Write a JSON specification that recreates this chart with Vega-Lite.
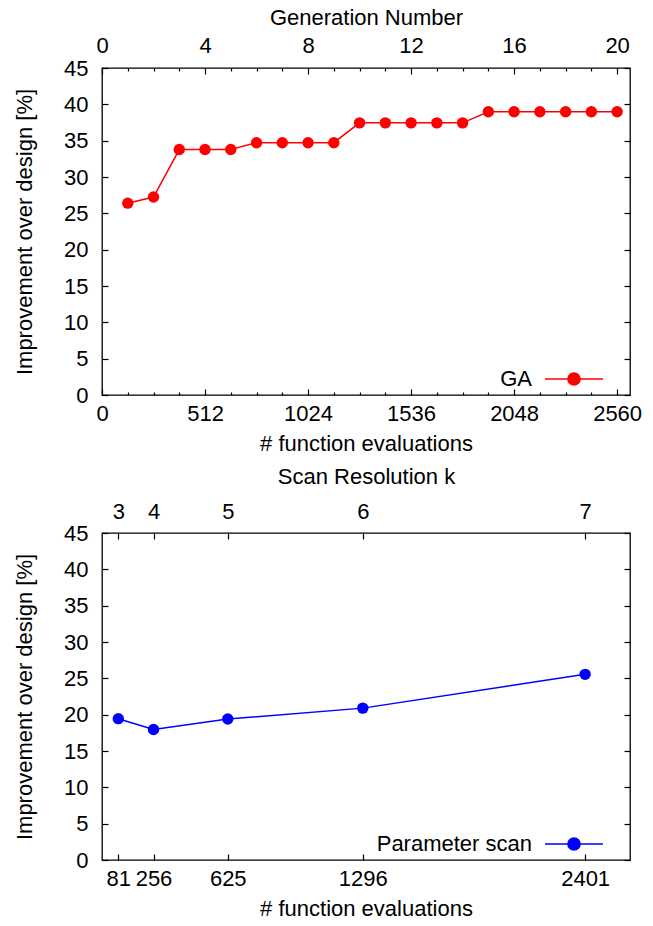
{
  "$schema": "https://vega.github.io/schema/vega-lite/v6.json",
  "padding": {"left": 12, "top": 5, "right": 10, "bottom": 5},
  "background": "white",
  "spacing": 9,
  "resolve": {"scale": {"color": "independent"}, "legend": {"color": "independent"}},
  "config": {
    "font": "Liberation Sans",
    "view": {"stroke": "black", "strokeWidth": 1.3},
    "axis": {
      "labelFont": "Liberation Sans",
      "titleFont": "Liberation Sans",
      "labelFontSize": 22,
      "titleFontSize": 22,
      "titleFontWeight": "normal",
      "labelColor": "black",
      "titleColor": "black",
      "tickColor": "black",
      "tickWidth": 1.2,
      "grid": false,
      "domain": false,
      "labelFlush": false,
      "labelOverlap": false,
      "format": "d"
    },
    "legend": {"labelFont": "Liberation Sans", "labelFontSize": 22, "labelColor": "black"}
  },
  "vconcat": [
    {
      "width": 528,
      "height": 327,
      "data": {"values": [
        {"gen": 1, "evals": 128, "imp": 26.4},
        {"gen": 2, "evals": 256, "imp": 27.25},
        {"gen": 3, "evals": 384, "imp": 33.78},
        {"gen": 4, "evals": 512, "imp": 33.78},
        {"gen": 5, "evals": 640, "imp": 33.78},
        {"gen": 6, "evals": 768, "imp": 34.72},
        {"gen": 7, "evals": 896, "imp": 34.72},
        {"gen": 8, "evals": 1024, "imp": 34.72},
        {"gen": 9, "evals": 1152, "imp": 34.72},
        {"gen": 10, "evals": 1280, "imp": 37.45},
        {"gen": 11, "evals": 1408, "imp": 37.45},
        {"gen": 12, "evals": 1536, "imp": 37.45},
        {"gen": 13, "evals": 1664, "imp": 37.45},
        {"gen": 14, "evals": 1792, "imp": 37.45},
        {"gen": 15, "evals": 1920, "imp": 38.97},
        {"gen": 16, "evals": 2048, "imp": 38.97},
        {"gen": 17, "evals": 2176, "imp": 38.97},
        {"gen": 18, "evals": 2304, "imp": 38.97},
        {"gen": 19, "evals": 2432, "imp": 38.97},
        {"gen": 20, "evals": 2560, "imp": 38.97}
      ]},
      "layer": [
        {
          "mark": {"type": "line", "strokeWidth": 1.5},
          "encoding": {
            "x": {"field": "evals", "type": "quantitative", "scale": {"domain": [0, 2624], "nice": false, "zero": false},
              "axis": {"orient": "bottom", "values": [0, 512, 1024, 1536, 2048, 2560], "ticks": false, "labelPadding": 8, "title": "# function evaluations", "titlePadding": 9}},
            "y": {"field": "imp", "type": "quantitative", "scale": {"domain": [0, 45], "nice": false},
              "axis": {"orient": "left", "values": [0, 5, 10, 15, 20, 25, 30, 35, 40, 45], "ticks": false, "labelPadding": 14, "title": "Improvement over design [%]", "titlePadding": 27}},
            "color": {"datum": "GA", "type": "nominal", "scale": {"domain": ["GA"], "range": ["#ff0000"]},
              "legend": {"title": null, "orient": "none", "legendX": 442, "legendY": 281, "padding": 0,
                "symbolType": "M-1,0L1,0M0.21,0A0.21,0.21,0,1,1,-0.21,0A0.21,0.21,0,1,1,0.21,0Z",
                "symbolSize": 3364, "symbolStrokeWidth": 1.5, "symbolFillColor": "#ff0000", "symbolStrokeColor": "#ff0000", "symbolOpacity": 1,
                "labelAlign": "right", "labelOffset": -72}}
          }
        },
        {
          "mark": {"type": "point", "filled": true, "size": 130, "opacity": 1},
          "encoding": {
            "x": {"field": "evals", "type": "quantitative",
              "axis": {"orient": "top", "values": [0, 512, 1024, 1536, 2048, 2560], "labelExpr": "'' + round(datum.value / 128)", "ticks": false, "labelPadding": 11, "title": "Generation Number", "titlePadding": 5}},
            "y": {"field": "imp", "type": "quantitative",
              "axis": {"orient": "right", "values": [0, 5, 10, 15, 20, 25, 30, 35, 40, 45], "labels": false, "tickSize": -6, "title": null}},
            "color": {"datum": "GA", "type": "nominal"}
          }
        },
        {
          "mark": {"type": "point", "opacity": 0},
          "encoding": {
            "x": {"field": "evals", "type": "quantitative",
              "axis": {"orient": "bottom", "values": [0, 128, 256, 384, 512, 640, 768, 896, 1024, 1152, 1280, 1408, 1536, 1664, 1792, 1920, 2048, 2176, 2304, 2432, 2560], "labels": false, "title": null,
                "tickSize": {"condition": {"test": "datum.value % 512 === 0", "value": -6}, "value": -3}}},
            "y": {"field": "imp", "type": "quantitative",
              "axis": {"orient": "left", "values": [0, 5, 10, 15, 20, 25, 30, 35, 40, 45], "labels": false, "tickSize": -6, "title": null}}
          }
        },
        {
          "mark": {"type": "point", "opacity": 0},
          "encoding": {
            "x": {"field": "evals", "type": "quantitative",
              "axis": {"orient": "top", "values": [0, 128, 256, 384, 512, 640, 768, 896, 1024, 1152, 1280, 1408, 1536, 1664, 1792, 1920, 2048, 2176, 2304, 2432, 2560], "labels": false, "title": null,
                "tickSize": {"condition": {"test": "datum.value % 512 === 0", "value": -6}, "value": -3}}},
            "y": {"field": "imp", "type": "quantitative", "axis": null}
          }
        }
      ],
      "resolve": {"axis": {"x": "independent", "y": "independent"}}
    },
    {
      "width": 528,
      "height": 327,
      "data": {"values": [
        {"k": 3, "evals": 81, "imp": 19.45},
        {"k": 4, "evals": 256, "imp": 17.95},
        {"k": 5, "evals": 625, "imp": 19.4},
        {"k": 6, "evals": 1296, "imp": 20.9},
        {"k": 7, "evals": 2401, "imp": 25.55}
      ]},
      "layer": [
        {
          "mark": {"type": "line", "strokeWidth": 1.5},
          "encoding": {
            "x": {"field": "evals", "type": "quantitative", "scale": {"domain": [0, 2624], "nice": false, "zero": false},
              "axis": {"orient": "bottom", "values": [81, 256, 625, 1296, 2401], "ticks": false, "labelPadding": 8, "title": "# function evaluations", "titlePadding": 9}},
            "y": {"field": "imp", "type": "quantitative", "scale": {"domain": [0, 45], "nice": false},
              "axis": {"orient": "left", "values": [0, 5, 10, 15, 20, 25, 30, 35, 40, 45], "ticks": false, "labelPadding": 14, "title": "Improvement over design [%]", "titlePadding": 27}},
            "color": {"datum": "Parameter scan", "type": "nominal", "scale": {"domain": ["Parameter scan"], "range": ["#0000ff"]},
              "legend": {"title": null, "orient": "none", "legendX": 442, "legendY": 281, "padding": 0,
                "symbolType": "M-1,0L1,0M0.21,0A0.21,0.21,0,1,1,-0.21,0A0.21,0.21,0,1,1,0.21,0Z",
                "symbolSize": 3364, "symbolStrokeWidth": 1.5, "symbolFillColor": "#0000ff", "symbolStrokeColor": "#0000ff", "symbolOpacity": 1,
                "labelAlign": "right", "labelOffset": -72}}
          }
        },
        {
          "mark": {"type": "point", "filled": true, "size": 130, "opacity": 1},
          "encoding": {
            "x": {"field": "evals", "type": "quantitative",
              "axis": {"orient": "top", "values": [81, 256, 625, 1296, 2401], "labelExpr": "'' + round(pow(datum.value, 0.25))", "ticks": false, "labelPadding": 10, "title": "Scan Resolution k", "titlePadding": 12}},
            "y": {"field": "imp", "type": "quantitative",
              "axis": {"orient": "right", "values": [0, 5, 10, 15, 20, 25, 30, 35, 40, 45], "labels": false, "tickSize": -6, "title": null}},
            "color": {"datum": "Parameter scan", "type": "nominal"}
          }
        },
        {
          "mark": {"type": "point", "opacity": 0},
          "encoding": {
            "x": {"field": "evals", "type": "quantitative",
              "axis": {"orient": "bottom", "values": [81, 256, 625, 1296, 2401], "labels": false, "title": null, "tickSize": -6}},
            "y": {"field": "imp", "type": "quantitative",
              "axis": {"orient": "left", "values": [0, 5, 10, 15, 20, 25, 30, 35, 40, 45], "labels": false, "tickSize": -6, "title": null}}
          }
        },
        {
          "mark": {"type": "point", "opacity": 0},
          "encoding": {
            "x": {"field": "evals", "type": "quantitative",
              "axis": {"orient": "top", "values": [81, 256, 625, 1296, 2401], "labels": false, "title": null, "tickSize": -6}},
            "y": {"field": "imp", "type": "quantitative", "axis": null}
          }
        }
      ],
      "resolve": {"axis": {"x": "independent", "y": "independent"}}
    }
  ]
}
